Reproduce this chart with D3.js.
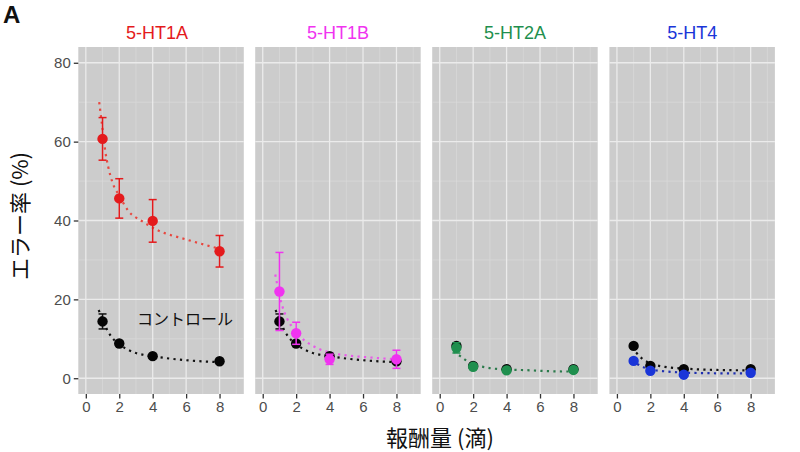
<!DOCTYPE html>
<html><head><meta charset="utf-8">
<script src="https://cdn.jsdelivr.net/npm/d3@7"></script>
<style>
html,body{margin:0;padding:0;background:#fff;}
svg{display:block;}
</style></head>
<body>
<svg id="chart" width="800" height="452"></svg>
<script>
// ---- data ----
const doses = [1, 2, 4, 8];
const panels = ["5-HT1A", "5-HT1B", "5-HT2A", "5-HT4"];
const panelColors = ["#e41a1c", "#f033f0", "#1f8f4e", "#1a35d8"];
const fitColors = ["#e8473f", "#e85ae8", "#2b7a4b", "#1e2fb0"];
const xTicks = [0, 2, 4, 6, 8];
const yTicks = [0, 20, 40, 60, 80];

const drugMean = [
  [60.7, 45.6, 39.9, 32.2],
  [22.0, 11.4, 4.8, 4.8],
  [7.7, 2.9, 2.0, 2.1],
  [4.4, 1.9, 0.9, 1.4]
];
const drugErr = [
  [5.4, 5.0, 5.4, 4.0],
  [9.9, 2.8, 1.3, 2.3],
  [1.3, 0.3, 0.3, 0.3],
  [0.5, 0.3, 0.3, 0.3]
];
const ctrlMean = [
  [14.4, 8.8, 5.6, 4.3],
  [14.4, 8.8, 5.6, 4.3],
  [8.2, 3.1, 2.3, 2.3],
  [8.2, 3.1, 2.3, 2.3]
];
const ctrlErr = [
  [1.9, 0.6, 0.4, 0.3],
  [1.9, 0.6, 0.4, 0.3],
  [0.4, 0.3, 0.2, 0.2],
  [0.4, 0.3, 0.2, 0.2]
];
// fitted curves
const drugFitX = [
  [0.8, 0.96, 1.17, 1.34, 1.58, 2, 2.57, 3.3, 4.26, 6, 7.85],
  [0.75, 1.14, 1.44, 2, 2.44, 3, 4.03, 6.6, 8],
  [0.84, 1.23, 1.63, 2, 2.82, 4, 4.8, 7.6, 8],
  [0.9, 1.3, 1.7, 2.2, 3, 4.2, 6, 8]
];
const drugFitY = [
  [70, 64.6, 57.4, 53.6, 49.8, 46.3, 42.3, 40.0, 37.6, 35.2, 33],
  [26.3, 18.7, 15.3, 11.8, 9.8, 8.2, 6.5, 5.2, 4.8],
  [6.8, 5.6, 4.4, 3.6, 2.7, 2.2, 2.1, 1.7, 1.7],
  [4.6, 3.4, 2.6, 2.1, 1.7, 1.4, 1.25, 1.2]
];
const ctrlFitX = [
  [0.77, 1.08, 1.45, 2, 2.4, 3, 4, 6.5, 8],
  [0.77, 1.08, 1.45, 2, 2.4, 3, 4, 6.5, 8],
  null,
  [1.15, 1.5, 2.2, 3, 4.2, 6, 8]
];
const ctrlFitY = [
  [17.3, 14.0, 11.0, 8.6, 7.5, 6.4, 5.6, 4.4, 4.1],
  [17.3, 14.0, 11.0, 8.6, 7.5, 6.4, 5.6, 4.4, 4.1],
  null,
  [6.5, 5.0, 3.5, 2.8, 2.4, 2.1, 2.0]
];
const ctrlLabel = "コントロール";

// ---- layout ----
const svg = d3.select("#chart");
const panelLeft = [78.3, 255.2, 432.2, 609.4];
const panelW = 165.5;
const pTop = 47, pBottom = 394;
const y = d3.scaleLinear().domain([-4, 84]).range([pBottom, pTop]);
const jp = "'Noto Sans CJK JP', 'Noto Sans', sans-serif";
const latin = "Arial, 'Liberation Sans', Helvetica, sans-serif";

svg.append("text").attr("x", 3).attr("y", 23)
  .attr("font-family", latin).attr("font-weight", "bold").attr("font-size", 24)
  .attr("fill", "#111").text("A");

panels.forEach((name, i) => {
  const x0 = panelLeft[i];
  const x = d3.scaleLinear().domain([-0.45, 9.45]).range([x0, x0 + panelW]);
  const g = svg.append("g");
  g.append("rect").attr("x", x0).attr("y", pTop).attr("width", panelW)
    .attr("height", pBottom - pTop).attr("fill", "#cccccc");
  // minor grid
  [10, 30, 50, 70].forEach(v => g.append("line").attr("x1", x0).attr("x2", x0 + panelW)
    .attr("y1", y(v)).attr("y2", y(v)).attr("stroke", "#dadada").attr("stroke-width", 0.7));
  [1, 3, 5, 7, 9].forEach(v => g.append("line").attr("y1", pTop).attr("y2", pBottom)
    .attr("x1", x(v)).attr("x2", x(v)).attr("stroke", "#dadada").attr("stroke-width", 0.7));
  // major grid
  yTicks.forEach(v => g.append("line").attr("x1", x0).attr("x2", x0 + panelW)
    .attr("y1", y(v)).attr("y2", y(v)).attr("stroke", "#ebebeb").attr("stroke-width", 1.3));
  xTicks.forEach(v => g.append("line").attr("y1", pTop).attr("y2", pBottom)
    .attr("x1", x(v)).attr("x2", x(v)).attr("stroke", "#ebebeb").attr("stroke-width", 1.3));

  // x axis
  const xa = svg.append("g").attr("transform", `translate(0,${pBottom})`)
    .call(d3.axisBottom(x).tickValues(xTicks).tickSize(4.5).tickPadding(3));
  xa.select(".domain").remove();
  xa.selectAll("line").attr("stroke", "#333").attr("stroke-width", 1.3);
  xa.selectAll("text").attr("font-family", latin).attr("font-size", 15).attr("fill", "#4d4d4d");

  // title
  svg.append("text").attr("x", x0 + panelW / 2 - (i === 0 ? 4 : 0)).attr("y", 39)
    .attr("text-anchor", "middle").attr("font-family", latin).attr("font-size", 18)
    .attr("fill", panelColors[i]).text(name);

  const line = d3.line().x(d => x(d[0])).y(d => y(d[1])).curve(d3.curveMonotoneX);
  const dotted = (xs, ys, col) => g.append("path")
    .attr("d", line(xs.map((v, k) => [v, ys[k]])))
    .attr("fill", "none").attr("stroke", col).attr("stroke-width", 2.2)
    .attr("stroke-dasharray", "2.2,4.3");

  if (ctrlFitX[i]) dotted(ctrlFitX[i], ctrlFitY[i], "#111");
  dotted(drugFitX[i], drugFitY[i], fitColors[i]);

  const errbars = (means, errs, col) => {
    doses.forEach((d, k) => {
      const cx = x(d), lo = y(means[k] - errs[k]), hi = y(means[k] + errs[k]);
      g.append("line").attr("x1", cx).attr("x2", cx).attr("y1", lo).attr("y2", hi)
        .attr("stroke", col).attr("stroke-width", 1.5);
      [lo, hi].forEach(yy => g.append("line").attr("x1", cx - 4).attr("x2", cx + 4)
        .attr("y1", yy).attr("y2", yy).attr("stroke", col).attr("stroke-width", 1.5));
    });
  };
  const points = (means, col) => {
    doses.forEach((d, k) => g.append("circle").attr("cx", x(d)).attr("cy", y(means[k]))
      .attr("r", 5.2).attr("fill", col));
  };
  errbars(ctrlMean[i], ctrlErr[i], "#111");
  points(ctrlMean[i], "#050505");
  errbars(drugMean[i], drugErr[i], panelColors[i]);
  points(drugMean[i], panelColors[i]);

  if (i === 0) {
    const ya = svg.append("g").attr("transform", `translate(${x0},0)`)
      .call(d3.axisLeft(y).tickValues(yTicks).tickSize(4.5).tickPadding(3));
    ya.select(".domain").remove();
    ya.selectAll("line").attr("stroke", "#333").attr("stroke-width", 1.3);
    ya.selectAll("text").attr("font-family", latin).attr("font-size", 15).attr("fill", "#4d4d4d");
    g.append("text").attr("x", 137).attr("y", 325).attr("font-family", jp)
      .attr("font-size", 16).attr("fill", "#111").text(ctrlLabel);
  }
});

svg.append("text").attr("transform", "translate(28,216) rotate(-90)")
  .attr("text-anchor", "middle").attr("font-family", jp).attr("font-size", 22)
  .attr("fill", "#111").text("エラー率 (%)");
svg.append("text").attr("x", 440).attr("y", 446)
  .attr("text-anchor", "middle").attr("font-family", jp).attr("font-size", 22)
  .attr("fill", "#111").text("報酬量 (滴)");
</script>
</body></html>
